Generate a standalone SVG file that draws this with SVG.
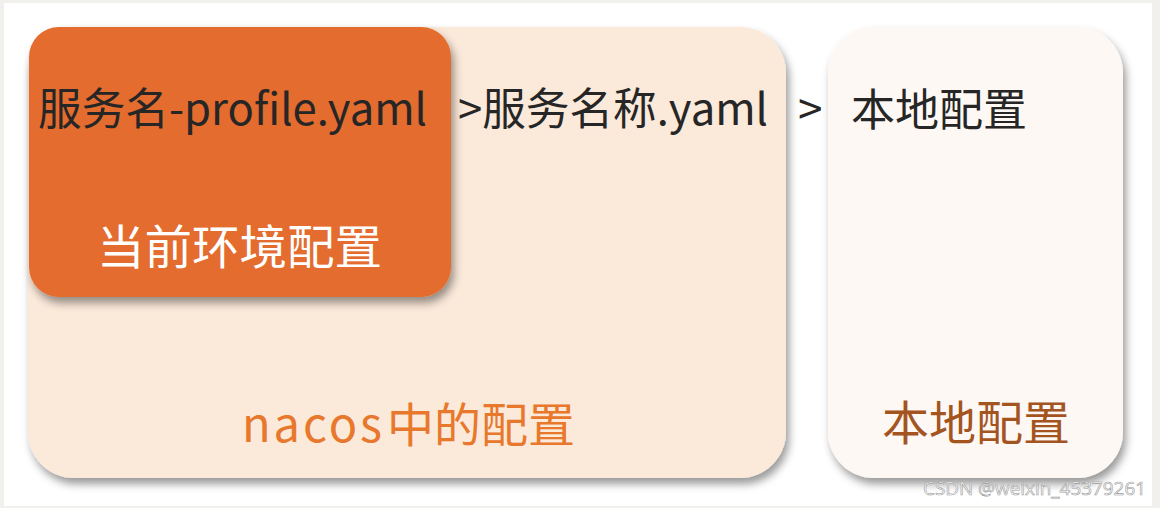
<svg xmlns="http://www.w3.org/2000/svg" width="1160" height="508" viewBox="0 0 1160 508">
<defs>
<filter id="sh" x="-10%" y="-10%" width="125%" height="130%">
<feDropShadow dx="3" dy="6" stdDeviation="4" flood-color="#000" flood-opacity="0.4"/>
</filter>
<style>
.t{font-family:"Noto Sans CJK SC","Open Sans",sans-serif;}
.dark{fill:#262626;}
</style>
</defs>
<rect x="0" y="0" width="1160" height="508" fill="#f1f0ec"/>
<rect x="4" y="3" width="1148" height="503" fill="#ffffff"/>
<g id="nacos">
<rect x="28" y="27" width="758" height="451" rx="46" fill="#fbe9da" filter="url(#sh)"/>
<text class="t" x="242" y="442" font-size="47" fill="#e8782c"><tspan textLength="140" lengthAdjust="spacing">nacos</tspan><tspan x="387">中的配置</tspan></text>
</g>
<g id="local">
<rect x="828" y="27" width="295" height="451" rx="46" fill="#fdf8f4" filter="url(#sh)"/>
<text class="t" x="882" y="440" font-size="47" fill="#a4541f">本地配置</text>
</g>
<g id="profile">
<rect x="29" y="27" width="422" height="270" rx="30" fill="#e36c2d" filter="url(#sh)"/>
<text class="t" x="97" y="264" font-size="47" fill="#ffffff" textLength="285" lengthAdjust="spacingAndGlyphs">当前环境配置</text>
</g>
<g id="labels">
<text class="t dark" x="38" y="125" font-size="44" textLength="389" lengthAdjust="spacingAndGlyphs">服务名-profile.yaml</text>
<text class="t dark" x="458" y="125" font-size="44" textLength="310" lengthAdjust="spacingAndGlyphs">&gt;服务名称.yaml</text>
<text class="t dark" x="798" y="125" font-size="44">&gt;</text>
<text class="t dark" x="851" y="126" font-size="44">本地配置</text>
</g>
<text x="923" y="495" font-family="'Open Sans','Noto Sans',sans-serif" font-size="19" fill="#ffffff" stroke="#9a9a9a" stroke-width="0.6" textLength="223" lengthAdjust="spacingAndGlyphs">CSDN @weixin_45379261</text>
</svg>
